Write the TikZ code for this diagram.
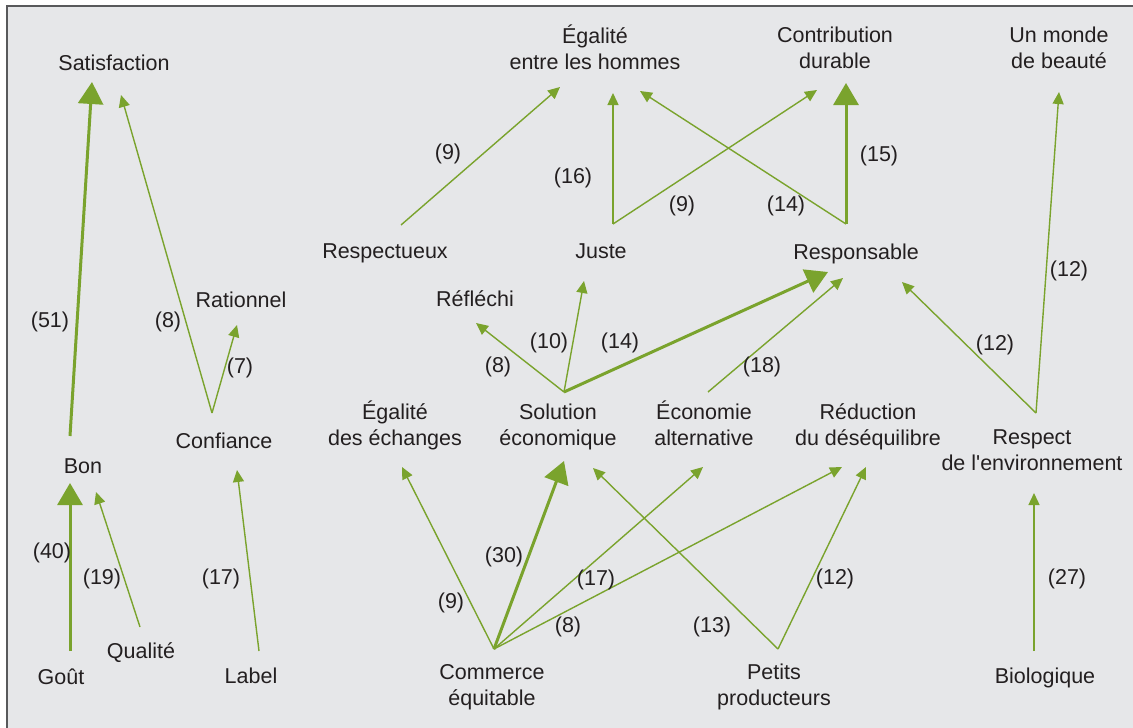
\documentclass[tikz,border=0pt]{standalone}
\usepackage{fontspec}
\setmainfont{Liberation Sans}[Ligatures=TeXOff]
\usetikzlibrary{arrows.meta,calc}
\definecolor{bggrey}{RGB}{230,231,233}
\definecolor{frame}{RGB}{88,89,91}
\definecolor{arrowgreen}{RGB}{122,163,45}
\definecolor{txt}{RGB}{35,31,32}
\tikzset{
  lab/.style={inner sep=0pt, text=txt, font=\fontsize{21.5}{26}\selectfont, align=center, anchor=base},
  num/.style={inner sep=0pt, text=txt, font=\fontsize{21.5}{26}\selectfont, anchor=center},
  thin link/.style={draw=arrowgreen, line width=1.4pt, -{Triangle[length=12pt,width=11pt]}},
  thick link/.style={draw=arrowgreen, line width=3pt, -{Triangle[length=22pt,width=25pt]}},
}
\begin{document}
\begin{tikzpicture}[x=1pt,y=-1pt]
\useasboundingbox (0,0) rectangle (1133,728);
\fill[white] (0,0) rectangle (1133,728);
\fill[bggrey] (7,6) rectangle (1133,728);
\draw[frame, line width=2pt] (7,728) -- (7,6) -- (1133,6);

% nodes (base anchor = baseline of the last line)
\node[lab] (sat) at (114,70) {Satisfaction};
\node[lab] (ega) at (595,69) {Égalité\\entre les hommes};
\node[lab] (con) at (835,68) {Contribution\\durable};
\node[lab] (mon) at (1059,68) {Un monde\\de beauté};
\node[lab] (rsp) at (385,258) {Respectueux};
\node[lab] (jus) at (601,258) {Juste};
\node[lab] (res) at (856,259) {Responsable};
\node[lab] (rat) at (241,307) {Rationnel};
\node[lab] (ref) at (475,306) {Réfléchi};
\node[lab] (ech) at (395,445) {Égalité\\des échanges};
\node[lab] (sol) at (558,445) {Solution\\économique};
\node[lab] (eco) at (704,445) {Économie\\alternative};
\node[lab] (red) at (868,445) {Réduction\\du déséquilibre};
\node[lab] (env) at (1032,470) {Respect\\de l'environnement};
\node[lab] (cnf) at (224,448) {Confiance};
\node[lab] (bon) at (83,473) {Bon};
\node[lab] (qua) at (141,658) {Qualité};
\node[lab] (gou) at (61,684) {Goût};
\node[lab] (lbl) at (251,683) {Label};
\node[lab] (com) at (492,705) {Commerce\\équitable};
\node[lab] (pet) at (774,705) {Petits\\producteurs};
\node[lab] (bio) at (1045,683) {Biologique};

% connectors (offsets from node base anchors)
\draw[thick link] ([shift={(-13,-37)}]bon.base) -- ([shift={(-22,12)}]sat.base);
\draw[thin link] ([shift={(-12,-35)}]cnf.base) -- ([shift={(7,25)}]sat.base);
\draw[thin link] ([shift={(-12,-35)}]cnf.base) -- ([shift={(-4,18)}]rat.base);
\draw[thick link] ([shift={(9,-33)}]gou.base) -- ([shift={(-13,10)}]bon.base);
\draw[thin link] ([shift={(-1,-31)}]qua.base) -- ([shift={(13,19)}]bon.base);
\draw[thin link] ([shift={(8,-32)}]lbl.base) -- ([shift={(13,22)}]cnf.base);
\draw[thin link] ([shift={(2,-56)}]com.base) -- ([shift={(7,22)}]ech.base);
\draw[thick link] ([shift={(2,-56)}]com.base) -- ([shift={(6,16)}]sol.base);
\draw[thin link] ([shift={(2,-56)}]com.base) -- ([shift={(-1,22)}]eco.base);
\draw[thin link] ([shift={(2,-56)}]com.base) -- ([shift={(-26,22)}]red.base);
\draw[thin link] ([shift={(4,-56)}]pet.base) -- ([shift={(35,23)}]sol.base);
\draw[thin link] ([shift={(4,-56)}]pet.base) -- ([shift={(-2,22)}]red.base);
\draw[thin link] ([shift={(-11,-32)}]bio.base) -- ([shift={(2,23)}]env.base);
\draw[thin link] ([shift={(4,-57)}]env.base) -- ([shift={(46,23)}]res.base);
\draw[thin link] ([shift={(4,-57)}]env.base) -- ([shift={(0,24)}]mon.base);
\draw[thin link] ([shift={(6,-53)}]sol.base) -- ([shift={(1,17)}]ref.base);
\draw[thin link] ([shift={(6,-53)}]sol.base) -- ([shift={(-17,23)}]jus.base);
\draw[thick link] ([shift={(6,-53)}]sol.base) -- ([shift={(-28,13)}]res.base);
\draw[thin link] ([shift={(4,-53)}]eco.base) -- ([shift={(-13,19)}]res.base);
\draw[thin link] ([shift={(16,-33)}]rsp.base) -- ([shift={(-35,18)}]ega.base);
\draw[thin link] ([shift={(12,-34)}]jus.base) -- ([shift={(18,24)}]ega.base);
\draw[thin link] ([shift={(12,-34)}]jus.base) -- ([shift={(-18,22)}]con.base);
\draw[thin link] ([shift={(-10,-35)}]res.base) -- ([shift={(45,22)}]ega.base);
\draw[thick link] ([shift={(-10,-35)}]res.base) -- ([shift={(11,15)}]con.base);

% weights
\node[num] (w1) at (50,322) {(51)};
\node[num] (w2) at (168,322) {(8)};
\node[num] (w3) at (240,368) {(7)};
\node[num] (w4) at (52,553) {(40)};
\node[num] (w5) at (102,579) {(19)};
\node[num] (w6) at (221,579) {(17)};
\node[num] (w7) at (451,603) {(9)};
\node[num] (w8) at (504,557) {(30)};
\node[num] (w9) at (596,580) {(17)};
\node[num] (w10) at (568,627) {(8)};
\node[num] (w11) at (712,627) {(13)};
\node[num] (w12) at (835,579) {(12)};
\node[num] (w13) at (1067,579) {(27)};
\node[num] (w14) at (995,345) {(12)};
\node[num] (w15) at (1069,271) {(12)};
\node[num] (w16) at (498,367) {(8)};
\node[num] (w17) at (549,343) {(10)};
\node[num] (w18) at (620,343) {(14)};
\node[num] (w19) at (762,367) {(18)};
\node[num] (w20) at (448,154) {(9)};
\node[num] (w21) at (573,178) {(16)};
\node[num] (w22) at (682,206) {(9)};
\node[num] (w23) at (786,206) {(14)};
\node[num] (w24) at (879,156) {(15)};
\end{tikzpicture}
\end{document}
